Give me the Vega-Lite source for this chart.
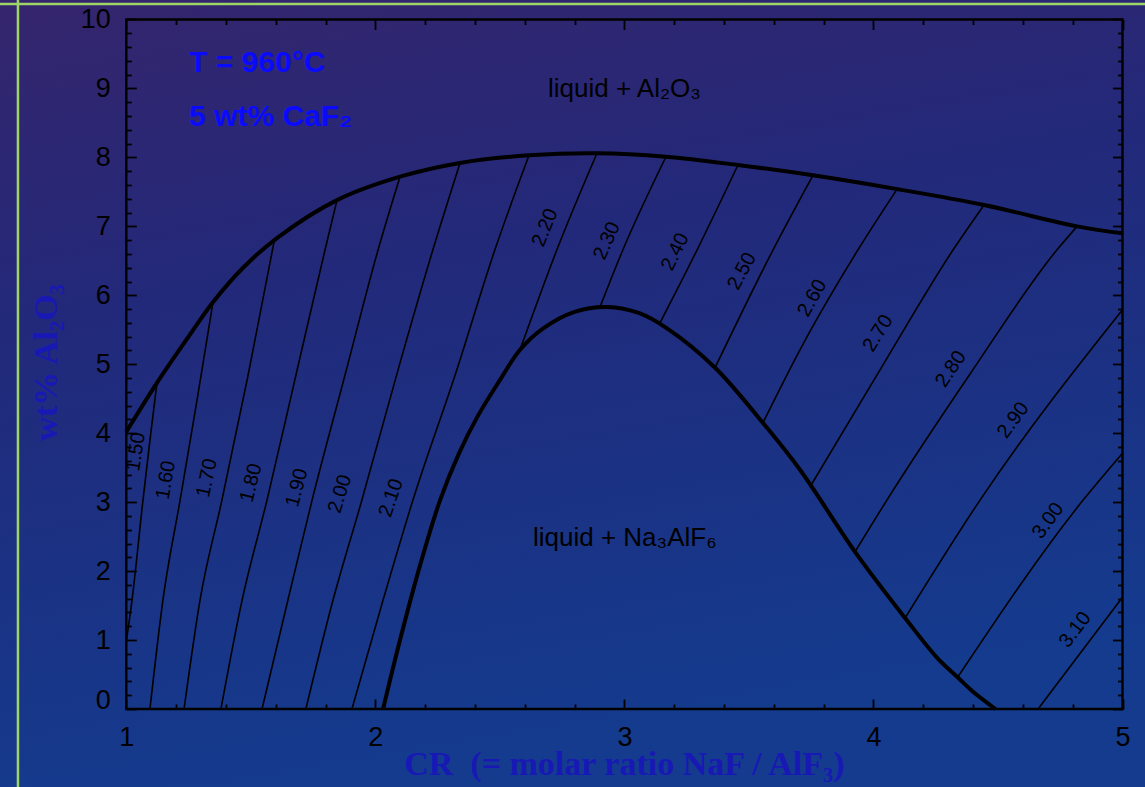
{
  "$schema": "https://vega.github.io/schema/vega-lite/v6.json",
  "width": 1145,
  "height": 787,
  "autosize": {"type": "none"},
  "padding": 0,
  "background": "#1f2d7c",
  "config": {
    "view": {
      "stroke": null,
      "fill": {
        "gradient": "linear",
        "x1": 0, "y1": 0, "x2": 0.25, "y2": 1,
        "stops": [
          {"offset": 0, "color": "#35256d"},
          {"offset": 0.4, "color": "#22297a"},
          {"offset": 1, "color": "#143b8e"}
        ]
      }
    },
    "axis": {
      "grid": false,
      "domain": false,
      "tickColor": "#000000",
      "tickWidth": 1.8,
      "labelFont": "Liberation Sans",
      "labelFontSize": 27,
      "labelColor": "#000000",
      "labelOverlap": false,
      "labelFlush": false,
      "labelBound": false
    }
  },
  "datasets": {
    "green": [
      {"x": 0.565, "x2": 0.565, "y": -1.2, "y2": 10.4},
      {"x": 0.4929, "x2": 5.0903, "y": 10.225, "y2": 10.225}
    ],
    "frame": [{"x": 1, "x2": 5, "y": 0, "y2": 10}],
    "liq": [
      {"c": "upper", "x": 1.0, "y": 4.02},
      {"c": "upper", "x": 1.123, "y": 4.73},
      {"c": "upper", "x": 1.244, "y": 5.37},
      {"c": "upper", "x": 1.348, "y": 5.9},
      {"c": "upper", "x": 1.469, "y": 6.4},
      {"c": "upper", "x": 1.605, "y": 6.83},
      {"c": "upper", "x": 1.846, "y": 7.38},
      {"c": "upper", "x": 2.099, "y": 7.72},
      {"c": "upper", "x": 2.34, "y": 7.92},
      {"c": "upper", "x": 2.617, "y": 8.03},
      {"c": "upper", "x": 2.89, "y": 8.06},
      {"c": "upper", "x": 3.167, "y": 8.01},
      {"c": "upper", "x": 3.456, "y": 7.89},
      {"c": "upper", "x": 3.757, "y": 7.74},
      {"c": "upper", "x": 4.095, "y": 7.54},
      {"c": "upper", "x": 4.444, "y": 7.31},
      {"c": "upper", "x": 4.818, "y": 7.0},
      {"c": "upper", "x": 5.0, "y": 6.9},
      {"c": "lower", "x": 2.031, "y": 0},
      {"c": "lower", "x": 2.099, "y": 1.0},
      {"c": "lower", "x": 2.18, "y": 2.09},
      {"c": "lower", "x": 2.26, "y": 3.03},
      {"c": "lower", "x": 2.335, "y": 3.7},
      {"c": "lower", "x": 2.41, "y": 4.24},
      {"c": "lower", "x": 2.5, "y": 4.77},
      {"c": "lower", "x": 2.581, "y": 5.21},
      {"c": "lower", "x": 2.674, "y": 5.52},
      {"c": "lower", "x": 2.8, "y": 5.76},
      {"c": "lower", "x": 2.93, "y": 5.83},
      {"c": "lower", "x": 3.06, "y": 5.74},
      {"c": "lower", "x": 3.171, "y": 5.52},
      {"c": "lower", "x": 3.364, "y": 4.95},
      {"c": "lower", "x": 3.556, "y": 4.15},
      {"c": "lower", "x": 3.705, "y": 3.47},
      {"c": "lower", "x": 3.926, "y": 2.28},
      {"c": "lower", "x": 4.127, "y": 1.32},
      {"c": "lower", "x": 4.254, "y": 0.75},
      {"c": "lower", "x": 4.338, "y": 0.46},
      {"c": "lower", "x": 4.4, "y": 0.25},
      {"c": "lower", "x": 4.49, "y": 0}
    ],
    "iso": [
      {"k": "1.50", "x": 1.0, "y": 0.98},
      {"k": "1.50", "x": 1.023, "y": 1.58},
      {"k": "1.50", "x": 1.067, "y": 3.03},
      {"k": "1.50", "x": 1.095, "y": 3.9},
      {"k": "1.50", "x": 1.123, "y": 4.73},
      {"k": "1.60", "x": 1.095, "y": 0},
      {"k": "1.60", "x": 1.147, "y": 1.58},
      {"k": "1.60", "x": 1.216, "y": 3.03},
      {"k": "1.60", "x": 1.284, "y": 4.48},
      {"k": "1.60", "x": 1.348, "y": 5.9},
      {"k": "1.70", "x": 1.232, "y": 0},
      {"k": "1.70", "x": 1.296, "y": 1.58},
      {"k": "1.70", "x": 1.384, "y": 3.03},
      {"k": "1.70", "x": 1.489, "y": 4.84},
      {"k": "1.70", "x": 1.594, "y": 6.79},
      {"k": "1.80", "x": 1.38, "y": 0},
      {"k": "1.80", "x": 1.465, "y": 1.58},
      {"k": "1.80", "x": 1.565, "y": 3.03},
      {"k": "1.80", "x": 1.681, "y": 4.84},
      {"k": "1.80", "x": 1.798, "y": 6.66},
      {"k": "1.80", "x": 1.846, "y": 7.38},
      {"k": "1.90", "x": 1.545, "y": 0},
      {"k": "1.90", "x": 1.649, "y": 1.58},
      {"k": "1.90", "x": 1.746, "y": 3.03},
      {"k": "1.90", "x": 1.878, "y": 4.84},
      {"k": "1.90", "x": 2.011, "y": 6.66},
      {"k": "1.90", "x": 2.099, "y": 7.72},
      {"k": "2.00", "x": 1.721, "y": 0},
      {"k": "2.00", "x": 1.83, "y": 1.58},
      {"k": "2.00", "x": 1.946, "y": 3.03},
      {"k": "2.00", "x": 2.099, "y": 5.02},
      {"k": "2.00", "x": 2.231, "y": 6.66},
      {"k": "2.00", "x": 2.34, "y": 7.92},
      {"k": "2.10", "x": 1.906, "y": 0},
      {"k": "2.10", "x": 2.031, "y": 1.58},
      {"k": "2.10", "x": 2.151, "y": 3.03},
      {"k": "2.10", "x": 2.32, "y": 4.84},
      {"k": "2.10", "x": 2.48, "y": 6.66},
      {"k": "2.10", "x": 2.617, "y": 8.03},
      {"k": "2.20", "x": 2.581, "y": 5.21},
      {"k": "2.20", "x": 2.729, "y": 6.66},
      {"k": "2.20", "x": 2.89, "y": 8.06},
      {"k": "2.30", "x": 2.902, "y": 5.83},
      {"k": "2.30", "x": 2.994, "y": 6.66},
      {"k": "2.30", "x": 3.167, "y": 8.01},
      {"k": "2.40", "x": 3.143, "y": 5.6},
      {"k": "2.40", "x": 3.292, "y": 6.66},
      {"k": "2.40", "x": 3.456, "y": 7.89},
      {"k": "2.50", "x": 3.364, "y": 4.95},
      {"k": "2.50", "x": 3.597, "y": 6.66},
      {"k": "2.50", "x": 3.757, "y": 7.74},
      {"k": "2.60", "x": 3.556, "y": 4.15},
      {"k": "2.60", "x": 3.705, "y": 5.21},
      {"k": "2.60", "x": 3.938, "y": 6.66},
      {"k": "2.60", "x": 4.095, "y": 7.54},
      {"k": "2.70", "x": 3.745, "y": 3.22},
      {"k": "2.70", "x": 4.03, "y": 4.94},
      {"k": "2.70", "x": 4.32, "y": 6.66},
      {"k": "2.70", "x": 4.444, "y": 7.31},
      {"k": "2.80", "x": 3.926, "y": 2.28},
      {"k": "2.80", "x": 4.054, "y": 3.03},
      {"k": "2.80", "x": 4.39, "y": 4.87},
      {"k": "2.80", "x": 4.737, "y": 6.66},
      {"k": "2.80", "x": 4.818, "y": 7.0},
      {"k": "2.90", "x": 4.127, "y": 1.32},
      {"k": "2.90", "x": 4.428, "y": 3.03},
      {"k": "2.90", "x": 5.0, "y": 5.79},
      {"k": "3.00", "x": 4.338, "y": 0.46},
      {"k": "3.00", "x": 4.842, "y": 3.03},
      {"k": "3.00", "x": 5.0, "y": 3.71},
      {"k": "3.10", "x": 4.661, "y": 0},
      {"k": "3.10", "x": 5.0, "y": 1.62}
    ],
    "lab": [
      {"v": 1.5, "x": 1.039, "y": 3.73},
      {"v": 1.6, "x": 1.159, "y": 3.32},
      {"v": 1.7, "x": 1.324, "y": 3.35},
      {"v": 1.8, "x": 1.501, "y": 3.28},
      {"v": 1.9, "x": 1.685, "y": 3.21},
      {"v": 2.0, "x": 1.858, "y": 3.12},
      {"v": 2.1, "x": 2.063, "y": 3.06},
      {"v": 2.2, "x": 2.681, "y": 6.98},
      {"v": 2.3, "x": 2.93, "y": 6.79},
      {"v": 2.4, "x": 3.204, "y": 6.63},
      {"v": 2.5, "x": 3.472, "y": 6.35},
      {"v": 2.6, "x": 3.754, "y": 5.96},
      {"v": 2.7, "x": 4.018, "y": 5.45},
      {"v": 2.8, "x": 4.311, "y": 4.93},
      {"v": 2.9, "x": 4.561, "y": 4.19},
      {"v": 3.0, "x": 4.701, "y": 2.73},
      {"v": 3.1, "x": 4.81, "y": 1.15}
    ],
    "reg": [
      {"t": "liquid + Al₂O₃", "x": 2.693, "y": 8.87},
      {"t": "liquid + Na₃AlF₆", "x": 2.633, "y": 2.37}
    ],
    "note": [
      {"t": "T = 960°C", "x": 1.252, "y": 9.24},
      {"t": "5 wt% CaF₂", "x": 1.252, "y": 8.45}
    ],
    "xt": [{"t": "CR\u00a0\u00a0(= molar ratio NaF / AlF₃)", "x": 3.0, "y": -0.95}],
    "yt": [{"t": "wt% Al₂O₃", "x": 0.7205, "y": 5.02}]
  },
  "encoding": {
    "x": {"field": "x", "type": "quantitative", "scale": {"domain": [0.49287, 5.09034], "nice": false, "zero": false}, "axis": null},
    "y": {"field": "y", "type": "quantitative", "scale": {"domain": [-1.13126, 10.28281], "nice": false, "zero": false}, "axis": null}
  },
  "layer": [
    {
      "data": {"name": "green"},
      "mark": {"type": "rule", "color": "#9fd467", "strokeWidth": 2.5},
      "encoding": {"x2": {"field": "x2"}, "y2": {"field": "y2"}}
    },
    {
      "data": {"name": "frame"},
      "mark": {"type": "rect", "filled": false, "stroke": "#000000", "strokeWidth": 2.4},
      "encoding": {"x2": {"field": "x2"}, "y2": {"field": "y2"}}
    },
    {
      "data": {"name": "liq"},
      "mark": {"type": "line", "color": "#000000", "strokeWidth": 4, "interpolate": "catmull-rom"},
      "encoding": {
        "x": {
          "field": "x", "type": "quantitative",
          "scale": {"domain": [0.49287, 5.09034], "nice": false, "zero": false},
          "axis": {
            "orient": "bottom", "offset": -78, "title": null,
            "values": [1, 1.2, 1.4, 1.6, 1.8, 2, 2.2, 2.4, 2.6, 2.8, 3, 3.2, 3.4, 3.6, 3.8, 4, 4.2, 4.4, 4.6, 4.8, 5],
            "tickSize": {"condition": {"test": "datum.value % 1 === 0", "value": -10}, "value": -5},
            "labelPadding": 25,
            "format": ".0f",
            "labelExpr": "datum.value % 1 === 0 ? datum.label : ''"
          }
        },
        "y": {
          "field": "y", "type": "quantitative",
          "scale": {"domain": [-1.13126, 10.28281], "nice": false, "zero": false},
          "axis": {
            "orient": "left", "offset": -126.3, "title": null,
            "values": [0, 0.2, 0.4, 0.6, 0.8, 1, 1.2, 1.4, 1.6, 1.8, 2, 2.2, 2.4, 2.6, 2.8, 3, 3.2, 3.4, 3.6, 3.8, 4, 4.2, 4.4, 4.6, 4.8, 5, 5.2, 5.4, 5.6, 5.8, 6, 6.2, 6.4, 6.6, 6.8, 7, 7.2, 7.4, 7.6, 7.8, 8, 8.2, 8.4, 8.6, 8.8, 9, 9.2, 9.4, 9.6, 9.8, 10],
            "tickSize": {"condition": {"test": "datum.value % 1 === 0", "value": -10}, "value": -5},
            "labelPadding": 26,
            "labelOffset": {"condition": {"test": "datum.value === 0", "value": -8}, "value": 0},
            "format": ".0f",
            "labelExpr": "datum.value % 1 === 0 ? datum.label : ''"
          }
        },
        "detail": {"field": "c", "type": "nominal"}
      }
    },
    {
      "data": {"name": "iso"},
      "mark": {"type": "line", "color": "#000000", "strokeWidth": 1.6, "interpolate": "monotone"},
      "encoding": {
        "x": {
          "field": "x", "type": "quantitative",
          "scale": {"domain": [0.49287, 5.09034], "nice": false, "zero": false},
          "axis": {
            "orient": "top", "offset": -19.5, "title": null, "labels": false,
            "values": [1, 1.2, 1.4, 1.6, 1.8, 2, 2.2, 2.4, 2.6, 2.8, 3, 3.2, 3.4, 3.6, 3.8, 4, 4.2, 4.4, 4.6, 4.8, 5],
            "tickSize": {"condition": {"test": "datum.value % 1 === 0", "value": -10}, "value": -5}
          }
        },
        "y": {
          "field": "y", "type": "quantitative",
          "scale": {"domain": [-1.13126, 10.28281], "nice": false, "zero": false},
          "axis": {
            "orient": "right", "offset": -22.5, "title": null, "labels": false,
            "values": [0, 0.2, 0.4, 0.6, 0.8, 1, 1.2, 1.4, 1.6, 1.8, 2, 2.2, 2.4, 2.6, 2.8, 3, 3.2, 3.4, 3.6, 3.8, 4, 4.2, 4.4, 4.6, 4.8, 5, 5.2, 5.4, 5.6, 5.8, 6, 6.2, 6.4, 6.6, 6.8, 7, 7.2, 7.4, 7.6, 7.8, 8, 8.2, 8.4, 8.6, 8.8, 9, 9.2, 9.4, 9.6, 9.8, 10],
            "tickSize": {"condition": {"test": "datum.value % 1 === 0", "value": -10}, "value": -5}
          }
        },
        "detail": {"field": "k", "type": "nominal"}
      }
    },
    {
      "data": {"name": "lab"},
      "mark": {"type": "text", "font": "Liberation Sans", "fontSize": 20, "color": "#000000", "align": "center", "baseline": "middle"},
      "encoding": {
        "text": {"field": "v", "type": "quantitative", "format": ".2f"},
        "angle": {
          "field": "v", "type": "quantitative",
          "scale": {
            "domain": [1.5, 1.6, 1.7, 1.8, 1.9, 2.0, 2.1, 2.2, 2.3, 2.4, 2.5, 2.6, 2.7, 2.8, 2.9, 3.0, 3.1],
            "range": [-81, -80, -78, -76, -75, -73, -71, -68, -66, -64, -62, -60, -58, -56, -54, -54, -53],
            "zero": false, "nice": false
          }
        }
      }
    },
    {
      "data": {"name": "reg"},
      "mark": {"type": "text", "font": "Liberation Sans", "fontSize": 26, "color": "#000000", "align": "left", "baseline": "alphabetic"},
      "encoding": {"text": {"field": "t", "type": "nominal"}}
    },
    {
      "data": {"name": "note"},
      "mark": {"type": "text", "font": "Liberation Sans", "fontSize": 30, "fontWeight": "bold", "color": "#0a0aff", "align": "left", "baseline": "alphabetic"},
      "encoding": {"text": {"field": "t", "type": "nominal"}}
    },
    {
      "data": {"name": "xt"},
      "mark": {"type": "text", "font": "Liberation Serif", "fontSize": 34, "fontWeight": 700, "color": "#1818b4", "align": "center", "baseline": "alphabetic"},
      "encoding": {"text": {"field": "t", "type": "nominal"}}
    },
    {
      "data": {"name": "yt"},
      "mark": {"type": "text", "font": "Liberation Serif", "fontSize": 34, "fontWeight": 700, "color": "#1818b4", "align": "center", "baseline": "alphabetic", "angle": 270},
      "encoding": {"text": {"field": "t", "type": "nominal"}}
    }
  ],
  "resolve": {"axis": {"x": "independent", "y": "independent"}}
}
